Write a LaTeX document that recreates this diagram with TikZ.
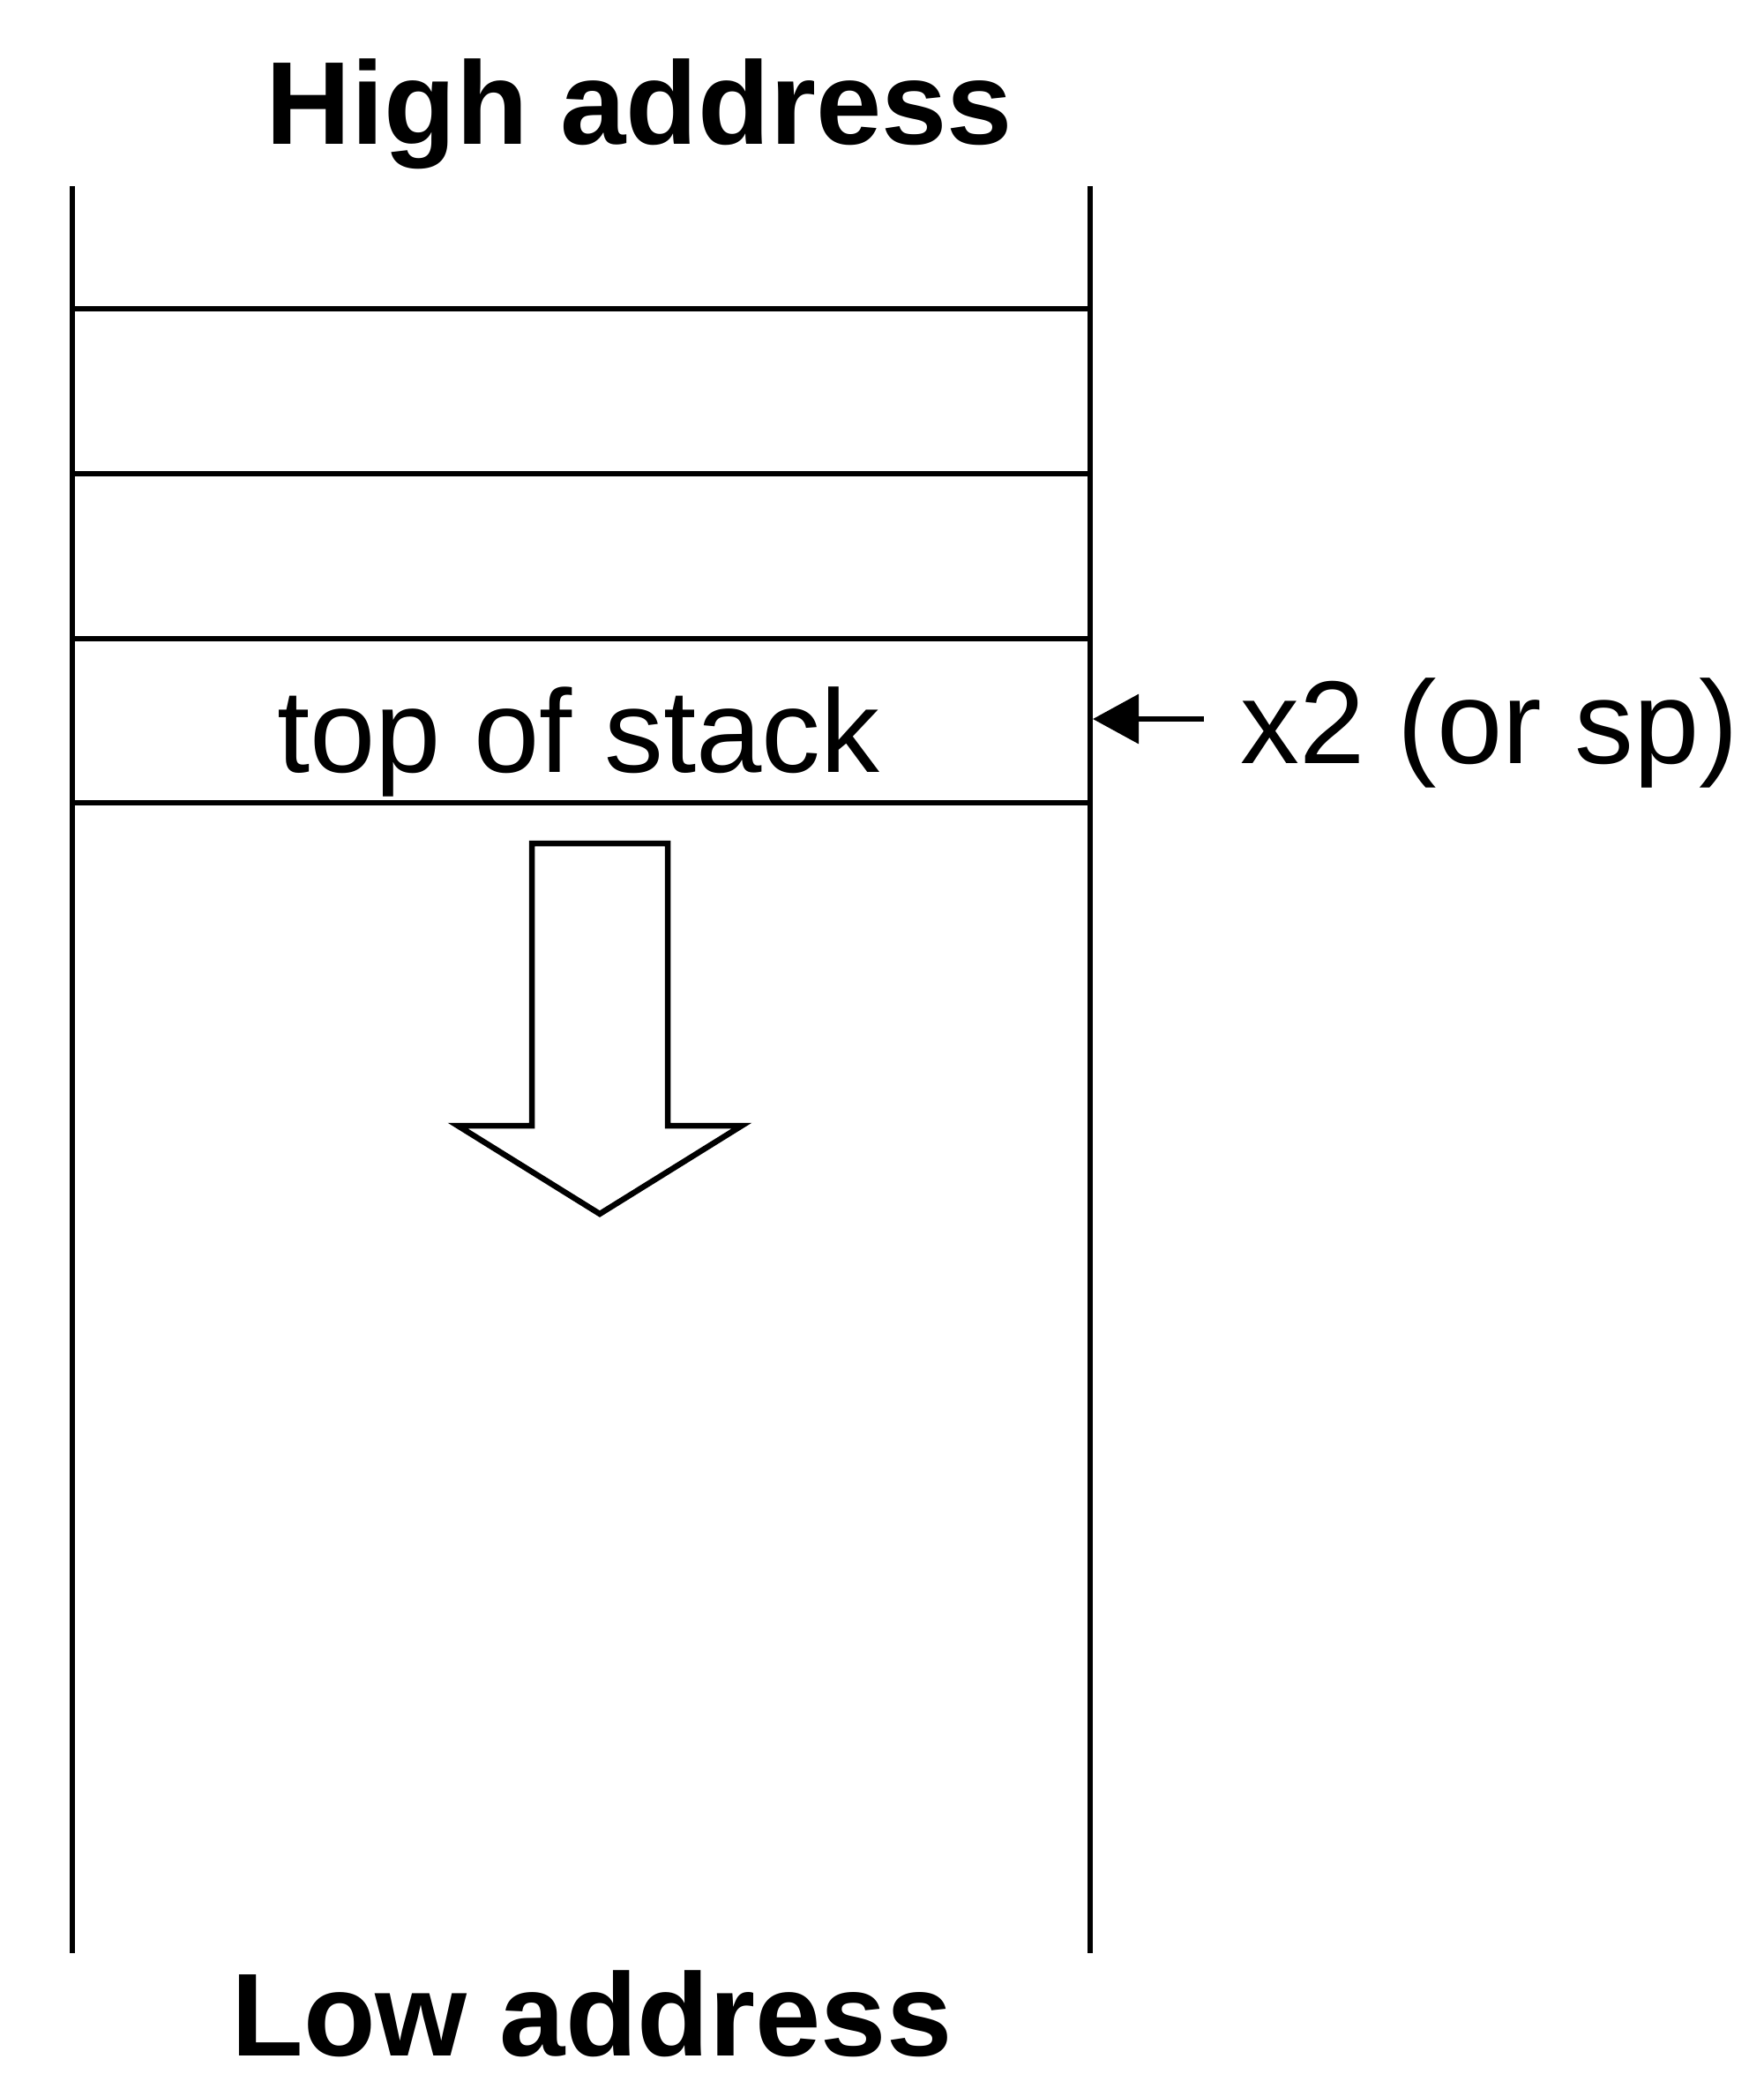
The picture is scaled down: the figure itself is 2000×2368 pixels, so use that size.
\documentclass[tikz,border=0pt]{standalone}
\usepackage{fontspec}
\setmainfont{Liberation Sans}
\usetikzlibrary{arrows.meta}
\begin{document}
\begin{tikzpicture}[x=0.01cm,y=-0.01cm,
  ln/.style={line width=0.065cm, line cap=butt},
  lbl/.style={font=\fontsize{38}{46}\selectfont, inner sep=0pt, anchor=base},
  blbl/.style={lbl, font=\fontsize{38}{46}\selectfont\bfseries},
  ptr/.style={line width=0.065cm, -{Triangle[length=0.52cm,width=0.55cm]}},
  growarrow/.style={line width=0.065cm, line join=miter, fill=white}]
\useasboundingbox (0,0) rectangle (2000,2368);
% stack walls
\coordinate (lt) at (82,211);
\coordinate (lb) at (82,2214);
\coordinate (rt) at (1236,211);
\coordinate (rb) at (1236,2214);
\draw[ln] (lt) -- (lb);
\draw[ln] (rt) -- (rb);
% slots
\foreach \i/\yy in {a/350, b/537, c/724, d/910} {
  \coordinate (l\i) at (82,\yy);
  \coordinate (r\i) at (1236,\yy);
  \draw[ln] (l\i) -- (r\i);
}
% labels
\node[blbl] (high) at (725,163) {High address};
\node[blbl] (low) at (671,2330) {Low address};
\node[lbl] (tos) at (656,875) {top of stack};
\node[lbl, anchor=base west] (sp) at (1406,865) {x2 (or sp)};
% pointer arrow
\coordinate (spstart) at (1365,815);
\coordinate (sptip) at (1239,815);
\draw[ptr] (spstart) -- (sptip);
% growth block arrow
\draw[growarrow] (603,956) -- (757,956) -- (757,1276) -- (841,1276) -- (680,1376)
  -- (519,1276) -- (603,1276) -- cycle;
\end{tikzpicture}
\end{document}
